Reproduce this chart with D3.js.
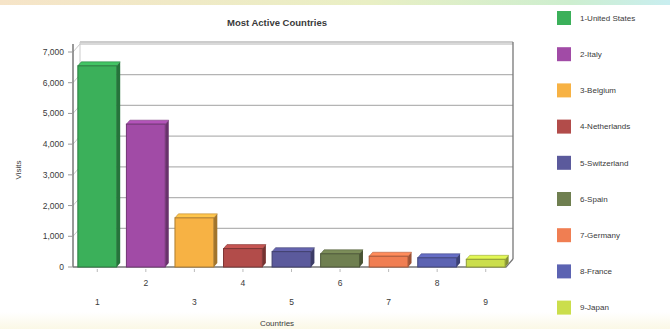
<!DOCTYPE html>
<html><head><meta charset="utf-8">
<script src="https://cdn.jsdelivr.net/npm/d3@7"></script>
<style>html,body{margin:0;padding:0;background:#fff;}svg{display:block;font-family:"Liberation Sans",Arial,sans-serif;}</style>
</head><body>
<svg id="c" width="670" height="329"></svg>
<script>
const categories = ["1","2","3","4","5","6","7","8","9"];
const countries = ["1-United States","2-Italy","3-Belgium","4-Netherlands","5-Switzerland","6-Spain","7-Germany","8-France","9-Japan"];
const visits = [6550, 4650, 1600, 600, 500, 430, 350, 300, 250];
const colors = ["#3bb05a","#a14ba6","#f7b244","#b24c4a","#5b5a9c","#6f7f50","#f07e52","#5c63b2","#cbde4c"];
const yTicks = [0,1000,2000,3000,4000,5000,6000,7000];

const svg = d3.select("#c");
const defs = svg.append("defs");
const tg = defs.append("linearGradient").attr("id","topg").attr("x1",0).attr("x2",1);
tg.append("stop").attr("offset","0").attr("stop-color","#f6e4c8");
tg.append("stop").attr("offset","0.55").attr("stop-color","#e9efc4");
tg.append("stop").attr("offset","0.85").attr("stop-color","#cdeecf");
tg.append("stop").attr("offset","1").attr("stop-color","#c9eef0");
svg.append("rect").attr("x",0).attr("y",0).attr("width",670).attr("height",5).attr("fill","url(#topg)");
const bg = defs.append("linearGradient").attr("id","botg").attr("x1",0).attr("x2",0).attr("y1",0).attr("y2",1);
bg.append("stop").attr("offset","0").attr("stop-color","#ffffff");
bg.append("stop").attr("offset","1").attr("stop-color","#fbf8e6");
svg.append("rect").attr("x",0).attr("y",312).attr("width",670).attr("height",17).attr("fill","url(#botg)");

const x = d3.scaleBand().domain(categories).range([73,510]).paddingInner(0.2).paddingOuter(0.1);
const y = d3.scaleLinear().domain([0,7000]).range([267,52]);
const dx = 7, dy = 8;

const wallL = 73+dx, wallR = 513, wallT = y(7000)-dy-2, wallB = y(0)-dy;
yTicks.forEach(v=>{
  if(v===0) return;
  svg.append("line").attr("x1",73).attr("y1",y(v)).attr("x2",wallL).attr("y2",y(v)-dy).attr("stroke","#c8c8c8");
  svg.append("line").attr("x1",wallL).attr("x2",wallR).attr("y1",y(v)-dy).attr("y2",y(v)-dy).attr("stroke","#b4b4b4").attr("stroke-width",1.2);
});
svg.append("line").attr("x1",wallL).attr("x2",wallR).attr("y1",wallT).attr("y2",wallT).attr("stroke","#9a9a9a").attr("stroke-width",1.2);
svg.append("line").attr("x1",wallR).attr("x2",wallR).attr("y1",wallT).attr("y2",wallB).attr("stroke","#777").attr("stroke-width",1.3);
svg.append("line").attr("x1",wallL).attr("x2",wallL).attr("y1",wallT).attr("y2",wallB).attr("stroke","#ccc");
svg.append("path").attr("d",`M73,${y(0)} L${wallR-dx},${y(0)} L${wallR},${wallB}`).attr("fill","none").attr("stroke","#777").attr("stroke-width",1.3);

svg.append("line").attr("x1",73).attr("x2",73).attr("y1",y(7000)-8).attr("y2",y(0)).attr("stroke","#777").attr("stroke-width",1.5);
const ya = svg.append("g");
yTicks.forEach(v=>{
  ya.append("line").attr("x1",68).attr("x2",73).attr("y1",y(v)).attr("y2",y(v)).attr("stroke","#999");
  ya.append("text").attr("x",64).attr("y",y(v)).attr("dy","0.35em").attr("text-anchor","end")
    .attr("font-size",8.5).attr("fill","#3a3a3a").text(d3.format(",")(v));
});

visits.forEach((v,i)=>{
  const x0 = x(categories[i]), w = x.bandwidth(), yt = y(v), yb = y(0);
  const c = d3.color(colors[i]);
  const g = svg.append("g");
  g.append("path").attr("d",`M${x0+w},${yt} L${x0+w+dx*0.5},${yt-dy*0.5} L${x0+w+dx*0.5},${yb-dy*0.5} L${x0+w},${yb} Z`).attr("fill",c.darker(1.2));
  g.append("path").attr("d",`M${x0},${yt} L${x0+dx*0.5},${yt-dy*0.5} L${x0+w+dx*0.5},${yt-dy*0.5} L${x0+w},${yt} Z`).attr("fill",c.brighter(0.3)).attr("stroke",c.darker(0.8)).attr("stroke-width",0.6);
  g.append("rect").attr("x",x0).attr("y",yt).attr("width",w).attr("height",yb-yt).attr("fill",colors[i]).attr("stroke",c.darker(1)).attr("stroke-width",1);
});

categories.forEach((cat,i)=>{
  const cx = x(cat)+x.bandwidth()/2;
  svg.append("line").attr("x1",cx).attr("x2",cx).attr("y1",y(0)+2).attr("y2",y(0)+5).attr("stroke","#bbb");
  svg.append("text").attr("x",cx).attr("y",i%2===0?302:283).attr("dy","0.35em")
    .attr("text-anchor","middle").attr("font-size",8.5).attr("fill","#3a3a3a").text(cat);
});

svg.append("text").attr("x",277).attr("y",23).attr("dy","0.35em").attr("text-anchor","middle")
  .attr("font-size",9.5).attr("font-weight","bold").attr("fill","#3a3a3a").text("Most Active Countries");
svg.append("text").attr("x",277).attr("y",323).attr("dy","0.35em").attr("text-anchor","middle")
  .attr("font-size",8).attr("fill","#3a3a3a").text("Countries");
svg.append("text").attr("transform","translate(18,170) rotate(-90)").attr("dy","0.35em").attr("text-anchor","middle")
  .attr("font-size",8).attr("fill","#3a3a3a").text("Visits");

const lg = svg.append("g");
countries.forEach((n,i)=>{
  const cy = 18 + i*36.2;
  lg.append("rect").attr("x",557).attr("y",cy-7).attr("width",14).attr("height",14).attr("fill",colors[i]);
  lg.append("text").attr("x",580).attr("y",cy).attr("dy","0.35em").attr("font-size",8).attr("fill","#3a3a3a").text(n);
});
</script>
</body></html>
